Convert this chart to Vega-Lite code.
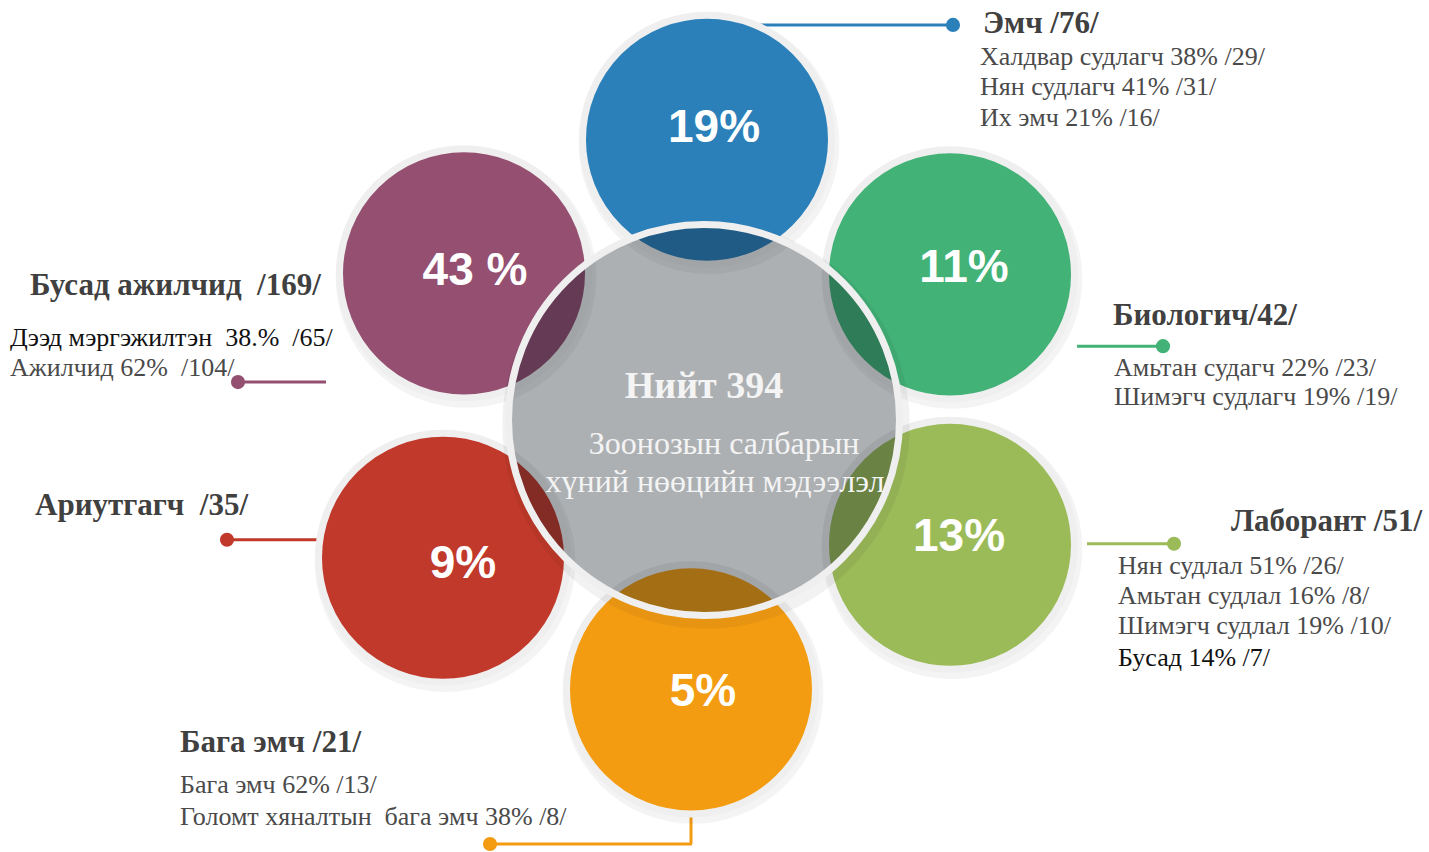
{
  "$schema": "https://vega.github.io/schema/vega-lite/v6.json",
  "autosize": {"type": "fit", "contains": "padding"},
  "width": 1429,
  "height": 852,
  "padding": 0,
  "background": "#ffffff",
  "config": {"view": {"stroke": null}},
  "datasets": {
    "circles": [
      {"category": "Эмч", "count": 76, "pct": "19%", "x": 707, "y": 140, "lx": 714, "ly": 128},
      {"category": "Биологич", "count": 42, "pct": "11%", "x": 950, "y": 275, "lx": 964, "ly": 269},
      {"category": "Лаборант", "count": 51, "pct": "13%", "x": 950, "y": 546, "lx": 959, "ly": 538},
      {"category": "Бага эмч", "count": 21, "pct": "5%", "x": 691, "y": 691, "lx": 703, "ly": 694},
      {"category": "Ариутгагч", "count": 35, "pct": "9%", "x": 443, "y": 559, "lx": 463, "ly": 565},
      {"category": "Бусад ажилчид", "count": 169, "pct": "43 %", "x": 464, "y": 274, "lx": 475, "ly": 272}
    ],
    "center": [
      {"total": 394, "x": 704, "y": 421}
    ],
    "centerText": [
      {"kind": "title", "text": "Нийт 394", "x": 704, "y": 388},
      {"kind": "sub", "text": "Зоонозын салбарын", "x": 724, "y": 445},
      {"kind": "sub", "text": "хүний нөөцийн мэдээлэл", "x": 715, "y": 483}
    ],
    "connectors": [
      {"category": "Эмч", "x": 752, "y": 25, "x2": 953, "y2": 25},
      {"category": "Биологич", "x": 1077, "y": 347, "x2": 1163, "y2": 347},
      {"category": "Лаборант", "x": 1087, "y": 545, "x2": 1174, "y2": 545},
      {"category": "Бусад ажилчид", "x": 238, "y": 383, "x2": 326, "y2": 383},
      {"category": "Ариутгагч", "x": 227, "y": 541, "x2": 318, "y2": 541},
      {"category": "Бага эмч", "x": 691, "y": 812, "x2": 691, "y2": 846},
      {"category": "Бага эмч", "x": 692, "y": 846, "x2": 490, "y2": 846}
    ],
    "dots": [
      {"category": "Эмч", "x": 953, "y": 25},
      {"category": "Биологич", "x": 1163, "y": 347},
      {"category": "Лаборант", "x": 1174, "y": 545},
      {"category": "Бусад ажилчид", "x": 238, "y": 383},
      {"category": "Ариутгагч", "x": 227, "y": 541},
      {"category": "Бага эмч", "x": 490, "y": 846}
    ],
    "headers": [
      {"category": "Эмч", "text": "Эмч /76/", "x": 983, "y": 24},
      {"category": "Биологич", "text": "Биологич/42/", "x": 1113, "y": 317},
      {"category": "Лаборант", "text": "Лаборант /51/", "x": 1231, "y": 523},
      {"category": "Бусад ажилчид", "text": "Бусад ажилчид\u00a0 /169/", "x": 30, "y": 287},
      {"category": "Ариутгагч", "text": "Ариутгагч\u00a0 /35/", "x": 35, "y": 507},
      {"category": "Бага эмч", "text": "Бага эмч /21/", "x": 180, "y": 745}
    ],
    "details": [
      {"category": "Эмч", "text": "Халдвар судлагч 38% /29/", "x": 980, "y": 57},
      {"category": "Эмч", "text": "Нян судлагч 41% /31/", "x": 980, "y": 87},
      {"category": "Эмч", "text": "Их эмч 21% /16/", "x": 980, "y": 118},
      {"category": "Биологич", "text": "Амьтан судагч 22% /23/", "x": 1114, "y": 369},
      {"category": "Биологич", "text": "Шимэгч судлагч 19% /19/", "x": 1114, "y": 398},
      {"category": "Лаборант", "text": "Нян судлал 51% /26/", "x": 1118, "y": 567},
      {"category": "Лаборант", "text": "Амьтан судлал 16% /8/", "x": 1118, "y": 597},
      {"category": "Лаборант", "text": "Шимэгч судлал 19% /10/", "x": 1118, "y": 627},
      {"category": "Лаборант", "text": "Бусад 14% /7/", "x": 1118, "y": 660},
      {"category": "Бусад ажилчид", "text": "Дээд мэргэжилтэн\u00a0 38.%\u00a0 /65/", "x": 10, "y": 339},
      {"category": "Бусад ажилчид", "text": "Ажилчид 62%\u00a0 /104/", "x": 10, "y": 369},
      {"category": "Бага эмч", "text": "Бага эмч 62% /13/", "x": 180, "y": 787},
      {"category": "Бага эмч", "text": "Голомт хяналтын\u00a0 бага эмч 38% /8/", "x": 180, "y": 819}
    ]
  },
  "layer": [
    {
      "data": {"name": "connectors"},
      "mark": {"type": "rule", "strokeWidth": 3},
      "encoding": {
        "x": {"field": "x", "type": "quantitative", "scale": {"domain": [0, 1429], "nice": false, "zero": false}, "axis": null},
        "y": {"field": "y", "type": "quantitative", "scale": {"domain": [0, 852], "nice": false, "zero": false, "reverse": true}, "axis": null},
        "x2": {"field": "x2"},
        "y2": {"field": "y2"},
        "color": {
          "field": "category", "type": "nominal", "legend": null,
          "scale": {
            "domain": ["Эмч", "Биологич", "Лаборант", "Бага эмч", "Ариутгагч", "Бусад ажилчид"],
            "range": ["#2b80b9", "#42b277", "#9bbb59", "#f39c12", "#c0392b", "#944f71"]
          }
        }
      }
    },
    {
      "data": {"name": "dots"},
      "mark": {"type": "point", "shape": "circle", "filled": true, "size": 200, "opacity": 1},
      "encoding": {
        "x": {"field": "x", "type": "quantitative", "axis": null},
        "y": {"field": "y", "type": "quantitative", "axis": null},
        "color": {"field": "category", "type": "nominal", "legend": null}
      }
    },
    {
      "data": {"name": "circles"},
      "mark": {"type": "point", "shape": "circle", "filled": true, "size": 68000, "opacity": 1, "fill": "#000000", "fillOpacity": 0.045, "xOffset": 2, "yOffset": 4},
      "encoding": {
        "x": {"field": "x", "type": "quantitative", "axis": null},
        "y": {"field": "y", "type": "quantitative", "axis": null}
      }
    },
    {
      "data": {"name": "circles"},
      "mark": {"type": "point", "shape": "circle", "filled": true, "size": 62001, "opacity": 1, "stroke": "#efefef", "strokeWidth": 7, "strokeOpacity": 1},
      "encoding": {
        "x": {"field": "x", "type": "quantitative", "axis": null},
        "y": {"field": "y", "type": "quantitative", "axis": null},
        "color": {"field": "category", "type": "nominal", "legend": null},
        "tooltip": [{"field": "category"}, {"field": "count"}, {"field": "pct"}]
      }
    },
    {
      "data": {"name": "center"},
      "mark": {"type": "point", "shape": "circle", "filled": true, "size": 166000, "opacity": 1, "fill": "#000000", "fillOpacity": 0.05, "xOffset": 2, "yOffset": 5},
      "encoding": {
        "x": {"field": "x", "type": "quantitative", "axis": null},
        "y": {"field": "y", "type": "quantitative", "axis": null}
      }
    },
    {
      "data": {"name": "center"},
      "mark": {"type": "point", "shape": "circle", "filled": true, "size": 152881, "opacity": 1, "fill": "#0e1820", "fillOpacity": 0.3, "stroke": "#efefef", "strokeWidth": 7, "strokeOpacity": 1},
      "encoding": {
        "x": {"field": "x", "type": "quantitative", "axis": null},
        "y": {"field": "y", "type": "quantitative", "axis": null}
      }
    },
    {
      "data": {"name": "circles"},
      "mark": {"type": "text", "font": "Liberation Sans", "fontWeight": "bold", "fontSize": 46, "color": "#ffffff", "align": "center", "baseline": "middle"},
      "encoding": {
        "x": {"field": "lx", "type": "quantitative", "axis": null},
        "y": {"field": "ly", "type": "quantitative", "axis": null},
        "text": {"field": "pct"}
      }
    },
    {
      "data": {"name": "centerText"},
      "transform": [{"filter": "datum.kind === 'title'"}],
      "mark": {"type": "text", "font": "Liberation Serif", "fontWeight": "bold", "fontSize": 38, "color": "#f4f4f4", "align": "center", "baseline": "middle"},
      "encoding": {
        "x": {"field": "x", "type": "quantitative", "axis": null},
        "y": {"field": "y", "type": "quantitative", "axis": null},
        "text": {"field": "text"}
      }
    },
    {
      "data": {"name": "centerText"},
      "transform": [{"filter": "datum.kind === 'sub'"}],
      "mark": {"type": "text", "font": "Liberation Serif", "fontSize": 32, "color": "#f4f4f4", "align": "center", "baseline": "middle"},
      "encoding": {
        "x": {"field": "x", "type": "quantitative", "axis": null},
        "y": {"field": "y", "type": "quantitative", "axis": null},
        "text": {"field": "text"}
      }
    },
    {
      "data": {"name": "headers"},
      "mark": {"type": "text", "font": "Liberation Serif", "fontWeight": "bold", "fontSize": 31, "color": "#404040", "align": "left", "baseline": "middle"},
      "encoding": {
        "x": {"field": "x", "type": "quantitative", "axis": null},
        "y": {"field": "y", "type": "quantitative", "axis": null},
        "text": {"field": "text"}
      }
    },
    {
      "data": {"name": "details"},
      "mark": {"type": "text", "font": "Liberation Serif", "fontSize": 26, "align": "left", "baseline": "middle"},
      "encoding": {
        "x": {"field": "x", "type": "quantitative", "axis": null},
        "y": {"field": "y", "type": "quantitative", "axis": null},
        "text": {"field": "text"},
        "color": {
          "condition": {"test": "indexof(datum.text, 'Дээд') === 0 || datum.text === 'Бусад 14% /7/'", "value": "#111111"},
          "value": "#4a4a4a"
        }
      }
    }
  ]
}
